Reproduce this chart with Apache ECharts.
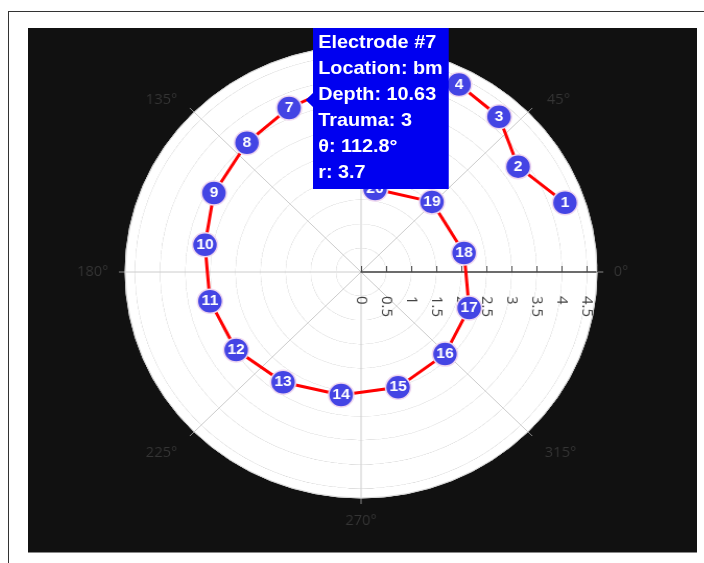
<!DOCTYPE html>
<html>
<head>
<meta charset="utf-8">
<script src="https://cdn.jsdelivr.net/npm/echarts@6/dist/echarts.min.js"></script>
<style>
  html, body { margin: 0; padding: 0; background: #fff; width: 704px; height: 563px; overflow: hidden; }
  #frame { position: absolute; left: 8px; top: 11px; width: 720px; height: 600px; border: 1px solid #333; box-sizing: border-box; }
  #plot { position: absolute; left: 28px; top: 28px; width: 669px; height: 524px; overflow: hidden; background: #111; border-bottom: 1px solid #888; }
  /* the polar plot is drawn slightly wider than tall */
  #chart { position: absolute; left: 0; top: 0; width: 641px; height: 524px; transform: scaleX(1.044); transform-origin: 0 0; }
</style>
</head>
<body>
<div id="frame"></div>
<div id="plot"><div id="chart"></div></div>
<script>
// Electrode numbers along the array, with their polar coordinates
const electrodes = ['1', '2', '3', '4', '5', '6', '7', '8', '9', '10',
                    '11', '12', '13', '14', '15', '16', '17', '18', '19', '20'];
const radius = [4.31, 3.82, 4.24, 4.36, 4.15, 3.92, 3.7, 3.52, 3.36, 3.16,
                3.07, 2.97, 2.77, 2.59, 2.51, 2.39, 2.28, 2.09, 2.03, 1.75];
const theta = [19.5, 35.0, 49.6, 63.4, 79, 96, 112.8, 130.2, 150.7, 169.7,
               191.4, 213.1, 235.9, 261.2, 287.1, 314.4, 340.8, 10.9, 45.9, 80.8];

// Axis ticks
const angleTicks = [0, 45, 90, 135, 180, 225, 270, 315];
const radiusTicks = [0, 0.5, 1, 1.5, 2, 2.5, 3, 3.5, 4, 4.5];
const radiusMax = 4.7;

// Details for the electrode whose hover card is shown
const hoverIndex = 6;
const hoverLocation = 'bm';
const hoverDepth = 10.63;
const hoverTrauma = 3;

// rich-text style keys for the diagonal angle labels
const diagonalStyle = { 45: 'ur', 135: 'ul', 225: 'll', 315: 'lr' };

const chart = echarts.init(document.getElementById('chart'), null, { renderer: 'canvas' });

const angleFont = { color: '#353535', fontSize: 14, fontFamily: 'Open Sans' };

const option = {
  animation: false,
  backgroundColor: 'transparent',
  polar: { center: [319, 244], radius: 226 },
  angleAxis: {
    type: 'value', min: 0, max: 360, interval: 45,
    startAngle: 0, clockwise: false,
    axisLine: { show: true, lineStyle: { color: '#d4d4d4', width: 1 } },
    axisTick: { show: true, length: 6, lineStyle: { color: '#8a8a8a' } },
    axisLabel: Object.assign({}, angleFont, {
      margin: 16,
      formatter: v => {
        if (!angleTicks.includes(v)) return '';
        const key = diagonalStyle[v];
        return key ? '{' + key + '|' + v + '°}' : v + '°';
      },
      rich: {
        ur: Object.assign({ padding: [0, 0, 0, 7], lineHeight: 2 }, angleFont),
        ul: Object.assign({ padding: [0, 5, 0, 0], lineHeight: 2 }, angleFont),
        ll: Object.assign({ padding: [0, 5, 0, 0], lineHeight: 20 }, angleFont),
        lr: Object.assign({ padding: [0, 0, 0, 5], lineHeight: 20 }, angleFont)
      }
    }),
    splitLine: { show: true, lineStyle: { color: '#cccccc', width: 1 } }
  },
  radiusAxis: {
    type: 'value', min: 0, max: radiusMax, interval: 0.5,
    axisLine: { show: true, lineStyle: { color: '#444', width: 1.5 } },
    axisTick: { show: true, length: 6, lineStyle: { color: '#444' } },
    // labels sit below the axis line, reading downward from just under it
    axisLabel: {
      rotate: -90, margin: -58,
      formatter: v => radiusTicks.includes(v) ? '{t|' + v + '}' : '',
      rich: {
        t: { width: 34, align: 'left', color: '#444', fontSize: 15, fontFamily: 'Open Sans' }
      }
    },
    splitLine: { show: true, lineStyle: { color: '#cccccc', width: 1 } },
    splitArea: { show: true, areaStyle: { color: ['#ffffff', '#ffffff'] } }
  },
  tooltip: {
    trigger: 'item',
    alwaysShowContent: true,
    showDelay: 0,
    transitionDuration: 0,
    position: [273, -1],
    backgroundColor: '#0000f0',
    borderColor: '#0000f0',
    borderWidth: 0,
    borderRadius: 0,
    padding: [2, 6, 4, 5],
    extraCssText: 'box-shadow:none;line-height:26px;',
    textStyle: { color: '#fff', fontSize: 19, fontWeight: 'bold', fontFamily: 'Liberation Sans, Arial' },
    formatter: p => {
      const i = p.dataIndex;
      const pointer = '<span style="position:absolute;left:-7px;top:66px;width:0;height:0;' +
        'border-style:solid;border-width:7px 7px 7px 0;border-color:transparent #0000f0 transparent transparent"></span>';
      return pointer + [
        'Electrode #' + electrodes[i],
        'Location: ' + hoverLocation,
        'Depth: ' + hoverDepth,
        'Trauma: ' + hoverTrauma,
        'θ: ' + theta[i] + '°',
        'r: ' + radius[i]
      ].join('<br/>');
    }
  },
  series: [{
    type: 'line',
    coordinateSystem: 'polar',
    data: radius.map((r, i) => ({ value: [r, theta[i]], name: electrodes[i] })),
    lineStyle: { color: '#ff0000', width: 3 },
    symbol: 'circle',
    symbolSize: 24,
    itemStyle: { color: '#4444e4', borderColor: '#f0d8f0', borderWidth: 1.5 },
    label: {
      show: true, position: 'inside',
      formatter: p => p.name,
      color: '#fff', fontSize: 15, fontWeight: 'bold', fontFamily: 'Liberation Sans, Arial'
    },
    emphasis: { scale: false },
    z: 3
  }]
};

chart.setOption(option);
chart.dispatchAction({ type: 'showTip', seriesIndex: 0, dataIndex: hoverIndex });
</script>
</body>
</html>
